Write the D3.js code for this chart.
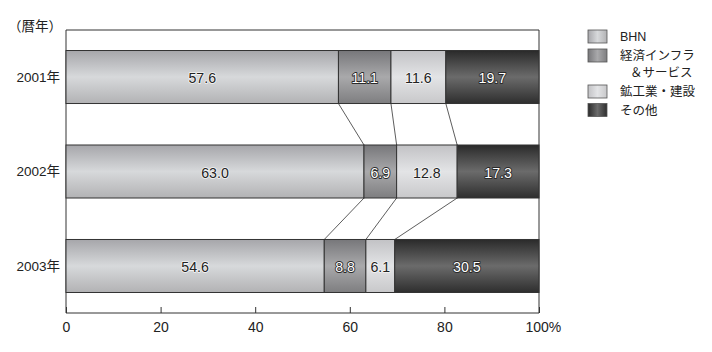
<!DOCTYPE html>
<html><head><meta charset="utf-8">
<script src="https://cdn.jsdelivr.net/npm/d3@7"></script>
<style>
html,body{margin:0;padding:0;background:#fff;}
text{font-family:"Liberation Sans","Noto Sans CJK JP",Arial,sans-serif;}
</style></head>
<body>
<svg id="chart" width="712" height="352"></svg>
<script>
const categories = ["2001年", "2002年", "2003年"];
const seriesNames = ["BHN", "経済インフラ＆サービス", "鉱工業・建設", "その他"];
const bhn = [57.6, 63.0, 54.6];
const infra = [11.1, 6.9, 8.8];
const mining = [11.6, 12.8, 6.1];
const other = [19.7, 17.3, 30.5];
const xTicks = [0, 20, 40, 60, 80, 100];

const seriesValues = [bhn, infra, mining, other];
const grads = [
  ["#a6a6aa", "#d7d9db", "#b2b2b4"],
  ["#77777a", "#a9a9ab", "#7e7e80"],
  ["#c2c2c5", "#e3e4e6", "#c8c8ca"],
  ["#2a2a2a", "#6b6b6b", "#2e2e2e"]
];
const labelStyle = ["dark", "outline", "dark", "outline"];

const svg = d3.select("#chart");
const defs = svg.append("defs");
grads.forEach((g, i) => {
  const lg = defs.append("linearGradient").attr("id", "gv" + i)
    .attr("x1", 0).attr("y1", 0).attr("x2", 0).attr("y2", 1);
  lg.append("stop").attr("offset", "0%").attr("stop-color", g[0]);
  lg.append("stop").attr("offset", "50%").attr("stop-color", g[1]);
  lg.append("stop").attr("offset", "100%").attr("stop-color", g[2]);
  const lh = defs.append("linearGradient").attr("id", "gh" + i)
    .attr("x1", 0).attr("y1", 0).attr("x2", 1).attr("y2", 0);
  lh.append("stop").attr("offset", "0%").attr("stop-color", g[0]);
  lh.append("stop").attr("offset", "50%").attr("stop-color", g[1]);
  lh.append("stop").attr("offset", "100%").attr("stop-color", g[2]);
});

const pLeft = 66, pRight = 539, pTop = 30, pBottom = 313;
const x = d3.scaleLinear().domain([0, 100]).range([pLeft, pRight]);
const y = d3.scaleBand().domain(categories).range([pTop, pBottom])
  .paddingInner(0.439).paddingOuter(0.217);

// stack
const rows = categories.map((c, i) => {
  let acc = 0;
  return seriesValues.map((s, k) => {
    const seg = {cat: c, k, v: s[i], x0: acc, x1: acc + s[i]};
    acc += s[i];
    return seg;
  });
});

// frame
svg.append("path")
  .attr("d", `M${pLeft},${pBottom}V${pTop}H${pRight}V${pBottom}H${pLeft}`)
  .attr("fill", "none").attr("stroke", "#333").attr("stroke-width", 1);

// connectors
const conn = svg.append("g").attr("stroke", "#333").attr("stroke-width", 0.8);
for (let i = 0; i < categories.length - 1; i++) {
  for (let k = 0; k < 3; k++) {
    conn.append("line")
      .attr("x1", x(rows[i][k].x1)).attr("y1", y(categories[i]) + y.bandwidth())
      .attr("x2", x(rows[i + 1][k].x1)).attr("y2", y(categories[i + 1]));
  }
}

// bars
const barG = svg.append("g");
rows.forEach(row => {
  row.forEach(seg => {
    barG.append("rect")
      .attr("x", x(seg.x0)).attr("y", y(seg.cat))
      .attr("width", x(seg.x1) - x(seg.x0)).attr("height", y.bandwidth())
      .attr("fill", `url(#gv${seg.k})`)
      .attr("stroke", "#333").attr("stroke-width", 1);
    const t = barG.append("text")
      .attr("x", (x(seg.x0) + x(seg.x1)) / 2)
      .attr("y", y(seg.cat) + y.bandwidth() / 2 + 1)
      .attr("dy", "0.36em").attr("text-anchor", "middle")
      .attr("font-size", 14.2)
      .text(seg.v.toFixed(1));
    if (labelStyle[seg.k] === "outline") {
      t.attr("fill", "#fff").attr("stroke", "#2a2a2a").attr("stroke-width", 1.8)
        .attr("paint-order", "stroke").attr("stroke-linejoin", "round");
    } else {
      t.attr("fill", "#222").attr("stroke", "#f4f4f4").attr("stroke-width", 1.6)
        .attr("paint-order", "stroke").attr("stroke-linejoin", "round");
    }
  });
});

// axis
const ax = svg.append("g").attr("transform", `translate(0,${pBottom})`)
  .call(d3.axisBottom(x).tickValues(xTicks).tickSizeInner(-6).tickSizeOuter(0)
    .tickPadding(9).tickFormat(d => d === 100 ? "100%" : d));
ax.select(".domain").remove();
ax.selectAll(".tick line").attr("stroke", "#333");
ax.selectAll(".tick text").attr("font-size", 14).attr("fill", "#222")
  .attr("font-family", "'Liberation Sans',Arial,sans-serif");
ax.selectAll(".tick text").filter(d => d === 100)
  .attr("text-anchor", "start").attr("x", -14);

// year labels
svg.append("g").selectAll("text").data(categories).join("text")
  .attr("x", 60).attr("y", d => y(d) + y.bandwidth() / 2)
  .attr("dy", "0.36em").attr("text-anchor", "end")
  .attr("font-size", 13.5).attr("fill", "#222")
  .text(d => d);

svg.append("text").attr("x", 8).attr("y", 31).attr("font-size", 13.5)
  .attr("fill", "#222").text("（暦年）");

// legend
const legendItems = [
  {k: 0, lines: ["BHN"], y: 36.5},
  {k: 1, lines: ["経済インフラ", "＆サービス"], y: 55.5},
  {k: 2, lines: ["鉱工業・建設"], y: 91.5},
  {k: 3, lines: ["その他"], y: 110}
];
const lgd = svg.append("g");
legendItems.forEach(it => {
  lgd.append("rect").attr("x", 588).attr("y", it.y - 6.5).attr("width", 19).attr("height", 13)
    .attr("fill", `url(#gh${it.k})`).attr("stroke", "#555").attr("stroke-width", 0.8);
  it.lines.forEach((ln, j) => {
    lgd.append("text").attr("x", j === 0 ? 620 : 630).attr("y", it.y + j * 16.5)
      .attr("dy", "0.36em").attr("font-size", 12.5).attr("fill", "#222").text(ln);
  });
});
</script>
</body></html>
